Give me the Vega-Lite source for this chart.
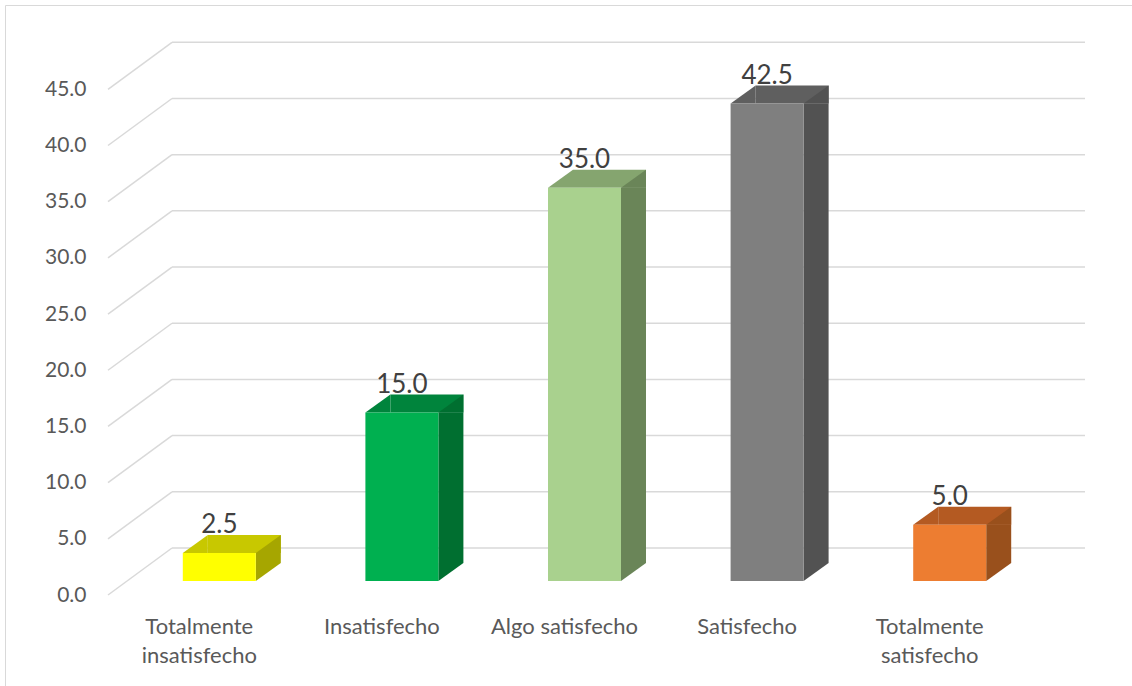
{
  "$schema": "https://vega.github.io/schema/vega-lite/v6.json",
  "autosize": {"type": "none"},
  "padding": {"left": 5, "top": 5, "right": -2, "bottom": -2},
  "width": 1129,
  "height": 683,
  "background": "white",
  "config": {"view": {"stroke": "#d9d9d9", "strokeWidth": 1}, "font": "Lato"},
  "datasets": {
    "bars": [
      {"categoria": "Totalmente insatisfecho", "porcentaje": 2.5},
      {"categoria": "Insatisfecho", "porcentaje": 15.0},
      {"categoria": "Algo satisfecho", "porcentaje": 35.0},
      {"categoria": "Satisfecho", "porcentaje": 42.5},
      {"categoria": "Totalmente satisfecho", "porcentaje": 5.0}
    ],
    "grid": [{"v": 0}, {"v": 5}, {"v": 10}, {"v": 15}, {"v": 20}, {"v": 25}, {"v": 30}, {"v": 35}, {"v": 40}, {"v": 45}]
  },
  "resolve": {"scale": {"color": "independent"}, "axis": {"x": "independent", "y": "independent"}},
  "layer": [
    {
      "data": {"name": "grid"},
      "mark": {"type": "rule", "color": "#d9d9d9", "strokeWidth": 1.5, "xOffset": 64, "x2Offset": 64, "yOffset": -47},
      "encoding": {
        "x": {"datum": "Totalmente insatisfecho", "type": "nominal", "bandPosition": 0,
              "scale": {"domain": ["Totalmente insatisfecho", "Insatisfecho", "Algo satisfecho", "Satisfecho", "Totalmente satisfecho"], "range": [103, 1016], "paddingInner": 0, "paddingOuter": 0}, "axis": null},
        "x2": {"datum": "Totalmente satisfecho", "bandPosition": 1},
        "y": {"field": "v", "type": "quantitative", "scale": {"domain": [0, 45], "range": [590, 84.3], "nice": false, "zero": true}, "axis": null}
      }
    },
    {
      "data": {"name": "grid"},
      "mark": {"type": "rule", "color": "#d9d9d9", "strokeWidth": 1.5, "x2Offset": 64, "y2Offset": -47},
      "encoding": {
        "x": {"datum": "Totalmente insatisfecho", "type": "nominal", "bandPosition": 0, "axis": null},
        "x2": {"datum": "Totalmente insatisfecho", "bandPosition": 0},
        "y": {"field": "v", "type": "quantitative", "axis": null},
        "y2": {"field": "v"}
      }
    },
    {
      "data": {"name": "bars"},
      "mark": {"type": "bar", "width": 73, "xOffset": 45, "yOffset": -32, "y2Offset": -14},
      "encoding": {
        "x": {"field": "categoria", "type": "nominal", "axis": null},
        "y": {"field": "porcentaje", "type": "quantitative", "axis": null},
        "y2": {"field": "porcentaje"},
        "color": {"field": "categoria", "type": "nominal", "legend": null,
                  "scale": {"domain": ["Totalmente insatisfecho", "Insatisfecho", "Algo satisfecho", "Satisfecho", "Totalmente satisfecho"], "range": ["#C8C800", "#00843C", "#85A56F", "#5F5F5F", "#B45A22"]}}
      }
    },
    {
      "data": {"name": "bars"},
      "mark": {"type": "bar", "width": 25, "xOffset": 69, "yOffset": -14, "y2Offset": -32},
      "encoding": {
        "x": {"field": "categoria", "type": "nominal", "axis": null},
        "y": {"field": "porcentaje", "type": "quantitative", "axis": null},
        "y2": {"datum": 0},
        "color": {"field": "categoria", "type": "nominal", "legend": null,
                  "scale": {"domain": ["Totalmente insatisfecho", "Insatisfecho", "Algo satisfecho", "Satisfecho", "Totalmente satisfecho"], "range": ["#A6A600", "#006F30", "#6A8558", "#525252", "#99501C"]}}
      }
    },
    {
      "data": {"name": "bars"},
      "mark": {"type": "point", "shape": "M-1,0.72L1,-0.72L1,0.72Z", "size": 625, "filled": true, "opacity": 1, "strokeWidth": 0, "xOffset": 69, "yOffset": -23},
      "encoding": {
        "x": {"field": "categoria", "type": "nominal", "axis": null},
        "y": {"field": "porcentaje", "type": "quantitative", "axis": null},
        "color": {"field": "categoria", "type": "nominal", "legend": null,
                  "scale": {"domain": ["Totalmente insatisfecho", "Insatisfecho", "Algo satisfecho", "Satisfecho", "Totalmente satisfecho"], "range": ["#A6A600", "#006F30", "#6A8558", "#525252", "#99501C"]}}
      }
    },
    {
      "data": {"name": "bars"},
      "mark": {"type": "point", "shape": "M-1,-0.72L-1,0.72L1,-0.72Z", "size": 625, "filled": true, "opacity": 1, "strokeWidth": 0, "xOffset": 69, "yOffset": -23},
      "encoding": {
        "x": {"field": "categoria", "type": "nominal", "axis": null},
        "y": {"datum": 0, "type": "quantitative", "axis": null},
        "color": {"field": "categoria", "type": "nominal", "legend": null,
                  "scale": {"domain": ["Totalmente insatisfecho", "Insatisfecho", "Algo satisfecho", "Satisfecho", "Totalmente satisfecho"], "range": ["#A6A600", "#006F30", "#6A8558", "#525252", "#99501C"]}}
      }
    },
    {
      "data": {"name": "bars"},
      "mark": {"type": "point", "shape": "M-1,0.72L1,-0.72L1,0.72Z", "size": 625, "filled": true, "opacity": 1, "strokeWidth": 0, "xOffset": -4, "yOffset": -23},
      "encoding": {
        "x": {"field": "categoria", "type": "nominal", "axis": null},
        "y": {"field": "porcentaje", "type": "quantitative", "axis": null},
        "color": {"field": "categoria", "type": "nominal", "legend": null,
                  "scale": {"domain": ["Totalmente insatisfecho", "Insatisfecho", "Algo satisfecho", "Satisfecho", "Totalmente satisfecho"], "range": ["#C8C800", "#00843C", "#85A56F", "#5F5F5F", "#B45A22"]}}
      }
    },
    {
      "data": {"name": "bars"},
      "mark": {"type": "bar", "width": 73, "xOffset": 20, "yOffset": -14, "y2Offset": -14},
      "encoding": {
        "x": {"field": "categoria", "type": "nominal", "sort": null,
              "axis": {"orient": "bottom", "offset": -93, "domain": false, "ticks": false, "tickSize": 0, "labelPadding": 21, "labelFont": "Lato", "labelFontSize": 22, "labelColor": "#595959", "labelLineHeight": 29, "labelAngle": 0, "labelOverlap": false, "labelLimit": 300, "title": null,
                       "labelExpr": "indexof(datum.label, 'Totalmente') == 0 ? split(datum.label, ' ') : datum.label"}},
        "y": {"field": "porcentaje", "type": "quantitative",
              "axis": {"orient": "left", "offset": -103, "values": [0, 5, 10, 15, 20, 25, 30, 35, 40, 45], "format": ".1f", "domain": false, "ticks": false, "tickSize": 0, "grid": false, "labelPadding": 22, "labelFont": "Lato", "labelFontSize": 21, "labelColor": "#595959", "labelOverlap": false, "title": null}},
        "y2": {"datum": 0},
        "color": {"field": "categoria", "type": "nominal", "legend": null,
                  "scale": {"domain": ["Totalmente insatisfecho", "Insatisfecho", "Algo satisfecho", "Satisfecho", "Totalmente satisfecho"], "range": ["#FFFF00", "#00B050", "#A9D18E", "#7F7F7F", "#ED7D31"]}}
      }
    },
    {
      "data": {"name": "bars"},
      "mark": {"type": "text", "xOffset": 20, "yOffset": -33.5, "baseline": "alphabetic", "align": "center", "font": "Lato", "fontSize": 26, "color": "#404040"},
      "encoding": {
        "x": {"field": "categoria", "type": "nominal", "axis": null},
        "y": {"field": "porcentaje", "type": "quantitative", "axis": null},
        "text": {"field": "porcentaje", "type": "quantitative", "format": ".1f"}
      }
    }
  ]
}
